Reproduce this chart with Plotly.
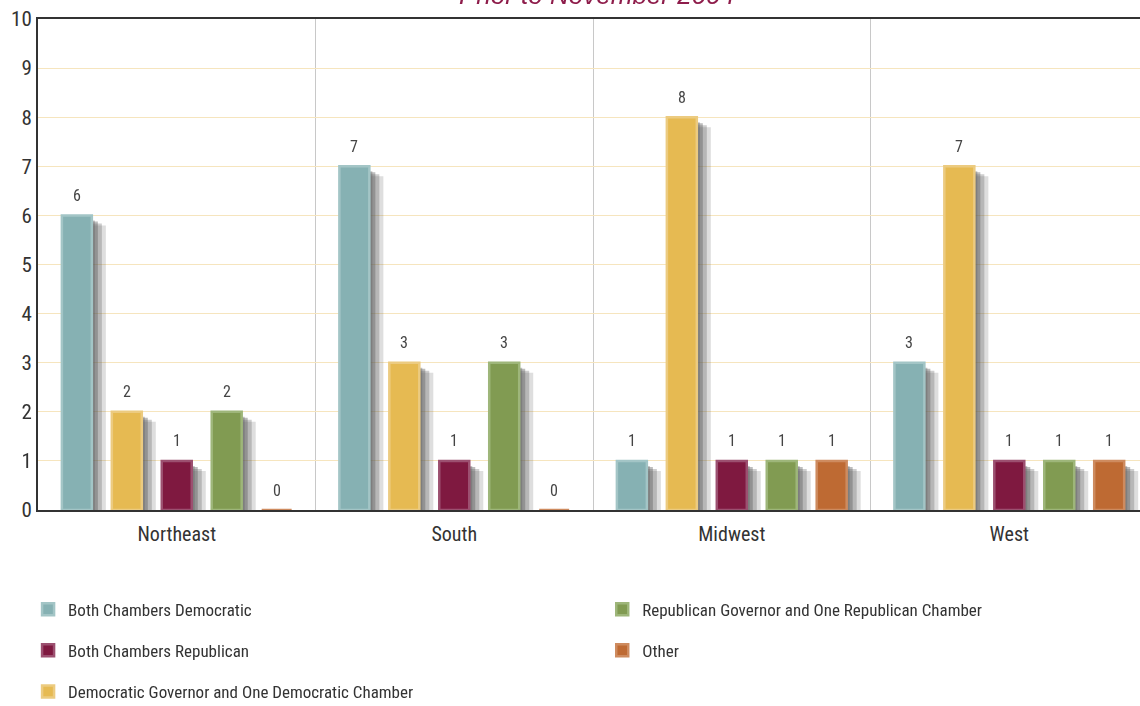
import plotly.graph_objects as go

regions = ["Northeast", "South", "Midwest", "West"]
series_names = [
    "Both Chambers Democratic",
    "Democratic Governor and One Democratic Chamber",
    "Both Chambers Republican",
    "Republican Governor and One Republican Chamber",
    "Other",
]
both_dem = [6, 7, 1, 3]
dem_gov_one = [2, 3, 8, 7]
both_rep = [1, 1, 1, 1]
rep_gov_one = [2, 3, 1, 1]
other = [0, 0, 1, 1]
series_values = [both_dem, dem_gov_one, both_rep, rep_gov_one, other]

colors = ["#86B1B3", "#E6BA52", "#7F1940", "#819B52", "#BE6A33"]
edge_colors = ["#A3C5C6", "#ECCB80", "#9C5070", "#9EB67A", "#CE8B5F"]
legend_rank = [1, 5, 3, 2, 4]
legend_ids = ["legend", "legend", "legend", "legend2", "legend2"]

FONT = "Roboto Condensed, Liberation Sans Narrow, sans-serif"

slot = 0.18
bar_w = 0.108
px_per_unit = 277.5
px_per_y = 49.1

fig = go.Figure()

# soft drop shadows (layered, increasing offset)
shadow_layers = [(14, 10, 0.2), (10, 8, 0.3), (6, 6, 0.4), (3, 5, 0.35)]
for i, vals in enumerate(series_values):
    off = -0.45 + i * slot + (slot - bar_w) / 2
    for dx_px, dy_px, op in shadow_layers:
        fig.add_trace(go.Bar(
            x=regions, y=[max(v - dy_px / px_per_y, 0) if v > 0 else 0 for v in vals], base=0,
            offset=off + dx_px / px_per_unit, width=bar_w,
            marker=dict(color="#5A5A5A", line=dict(width=0)), opacity=op,
            showlegend=False, hoverinfo="skip",
        ))

# bars
for i, (name, vals) in enumerate(zip(series_names, series_values)):
    off = -0.45 + i * slot + (slot - bar_w) / 2
    fig.add_trace(go.Bar(
        x=regions, y=vals, name=name, offset=off, width=bar_w,
        marker=dict(color=colors[i], line=dict(color=edge_colors[i], width=2.5)),
        legend=legend_ids[i], legendrank=legend_rank[i], legendgroup=name,
    ))
    zx = [gi + off + bar_w / 2 for gi, v in enumerate(vals) if v == 0]
    if zx:
        fig.add_trace(go.Scatter(
            x=zx, y=[0] * len(zx), mode="markers",
            marker=dict(symbol="line-ew-open", size=30, line=dict(color=colors[i], width=5)),
            showlegend=False, hoverinfo="skip", cliponaxis=False,
        ))
    for gi, v in enumerate(vals):
        fig.add_annotation(
            x=gi + off + bar_w / 2, y=v, xref="x", yref="y", text=str(v),
            showarrow=False, yshift=20, font=dict(family=FONT, size=16, color="#444444"),
        )

fig.add_annotation(
    x=0.507, y=1, xref="paper", yref="paper", yanchor="bottom", yshift=7,
    text="<i>Prior to November 2004</i>", showarrow=False,
    font=dict(family="Liberation Sans, Arial, sans-serif", size=26, color="#8E1D4B"),
)

fig.update_layout(
    width=1140, height=706,
    margin=dict(l=38, r=0, t=19, b=196),
    paper_bgcolor="white", plot_bgcolor="white",
    barmode="overlay",
    font=dict(family=FONT, size=17, color="#333333"),
    xaxis=dict(
        type="category", categoryorder="array", categoryarray=regions,
        range=[-0.5, 3.471], tickson="boundaries", showgrid=True,
        gridcolor="#C8C8C8", gridwidth=1, ticks="", showline=True,
        linecolor="#333333", linewidth=2, mirror=True, layer="below traces",
        ticklabelstandoff=5,
        tickfont=dict(family=FONT, size=20, color="#333333"),
    ),
    yaxis=dict(
        range=[0, 10], dtick=1, showgrid=True, gridcolor="#F6E5BE", gridwidth=1,
        zeroline=False, showline=True, linecolor="#333333", linewidth=2,
        ticks="", tickfont=dict(family=FONT, size=21, color="#333333"),
    ),
    legend=dict(
        orientation="v", xref="paper", yref="container",
        x=-0.009, xanchor="left", y=0.162, yanchor="top",
        tracegroupgap=16, font=dict(family=FONT, size=17, color="#333333"),
        bgcolor="rgba(0,0,0,0)",
    ),
    legend2=dict(
        orientation="v", xref="paper", yref="container",
        x=0.512, xanchor="left", y=0.162, yanchor="top",
        tracegroupgap=16, font=dict(family=FONT, size=17, color="#333333"),
        bgcolor="rgba(0,0,0,0)",
    ),
    showlegend=True,
)

fig.write_html("out.html")
